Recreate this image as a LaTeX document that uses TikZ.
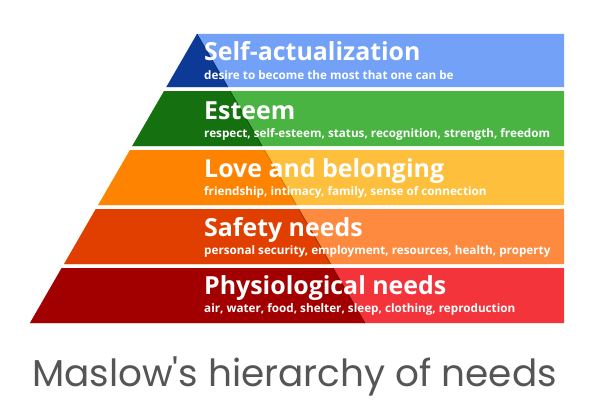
\documentclass[tikz,border=0pt]{standalone}
\usepackage{fontspec}
\setmainfont{Open Sans}
\newfontfamily\captionfont{Poppins}
\usepackage{xcolor}
\usetikzlibrary{positioning,calc}
\definecolor{selflight}{HTML}{73A1F7}
\definecolor{selfdark}{HTML}{0E3A97}
\definecolor{esteemlight}{HTML}{4AB443}
\definecolor{esteemdark}{HTML}{157010}
\definecolor{lovelight}{HTML}{FEBF3C}
\definecolor{lovedark}{HTML}{FE8300}
\definecolor{safetylight}{HTML}{FE8A40}
\definecolor{safetydark}{HTML}{E03F00}
\definecolor{physiolight}{HTML}{F3353B}
\definecolor{physiodark}{HTML}{A20000}
\definecolor{captiongray}{HTML}{555555}
\tikzset{
  title/.style={anchor=base west, inner sep=0pt, text=white, font=\bfseries\fontsize{24.9}{27}\selectfont},
  subtitle/.style={anchor=base west, inner sep=0pt, text=white, font=\bfseries\fontsize{11.7}{13}\selectfont},
  edge/.style={line width=0.7pt},
  caption/.style={anchor=base, inner sep=0pt, text=captiongray, font=\captionfont\fontsize{37.4}{40}\selectfont}
}

\begin{document}
\begin{tikzpicture}[x=1pt, y=-1pt]
  \useasboundingbox (0,0) rectangle (594,420);

  % bands: light part, then dark left part of the pyramid
  \fill[selflight] (197,34) -- (564,34) -- (564,87) -- (166.4,87) -- cycle;
  \fill[selfdark] (197,34) -- (227.8,87) -- (166.4,87) -- cycle;
  \draw[edge, selfdark!70!black] (197,34) -- (227.8,87);

  \fill[esteemlight] (164.1,91) -- (564,91) -- (564,146) -- (132.3,146) -- cycle;
  \fill[esteemdark] (164.1,91) -- (230.1,91) -- (262.1,146) -- (132.3,146) -- cycle;
  \draw[edge, esteemdark!70!black] (230.1,91) -- (262.1,146);

  \fill[lovelight] (130,150) -- (564,150) -- (564,205) -- (98.2,205) -- cycle;
  \fill[lovedark] (130,150) -- (264.4,150) -- (296.4,205) -- (98.2,205) -- cycle;
  \draw[edge, lovedark!85!black] (264.4,150) -- (296.4,205);

  \fill[safetylight] (95.8,209) -- (564,209) -- (564,264) -- (64.1,264) -- cycle;
  \fill[safetydark] (95.8,209) -- (298.7,209) -- (330.6,264) -- (64.1,264) -- cycle;
  \draw[edge, safetydark!70!black] (298.7,209) -- (330.6,264);

  \fill[physiolight] (61.7,268) -- (564,268) -- (564,323) -- (30,323) -- cycle;
  \fill[physiodark] (61.7,268) -- (333,268) -- (364.9,323) -- (30,323) -- cycle;
  \draw[edge, physiodark!70!black] (333,268) -- (364.9,323);

  % labels
  \node[title] (selftitle) at (204,61) {Self-actualization};
  \node[subtitle] (selfsub) at ([yshift=-18pt]selftitle.base west) {desire to become the most that one can be};

  \node[title] (esteemtitle) at (204,119) {Esteem};
  \node[subtitle] (esteemsub) at ([yshift=-18pt]esteemtitle.base west) {respect, self-esteem, status, recognition, strength, freedom};

  \node[title] (lovetitle) at (204,177) {Love and belonging};
  \node[subtitle] (lovesub) at ([yshift=-18pt]lovetitle.base west) {friendship, intimacy, family, sense of connection};

  \node[title] (safetytitle) at (204,236) {Safety needs};
  \node[subtitle] (safetysub) at ([yshift=-18pt]safetytitle.base west) {personal security, employment, resources, health, property};

  \node[title] (physiotitle) at (204,294) {Physiological needs};
  \node[subtitle] (physiosub) at ([yshift=-18pt]physiotitle.base west) {air, water, food, shelter, sleep, clothing, reproduction};

  \node[caption] (caption) at (294.5,386) {Maslow's hierarchy of needs};
\end{tikzpicture}
\end{document}
